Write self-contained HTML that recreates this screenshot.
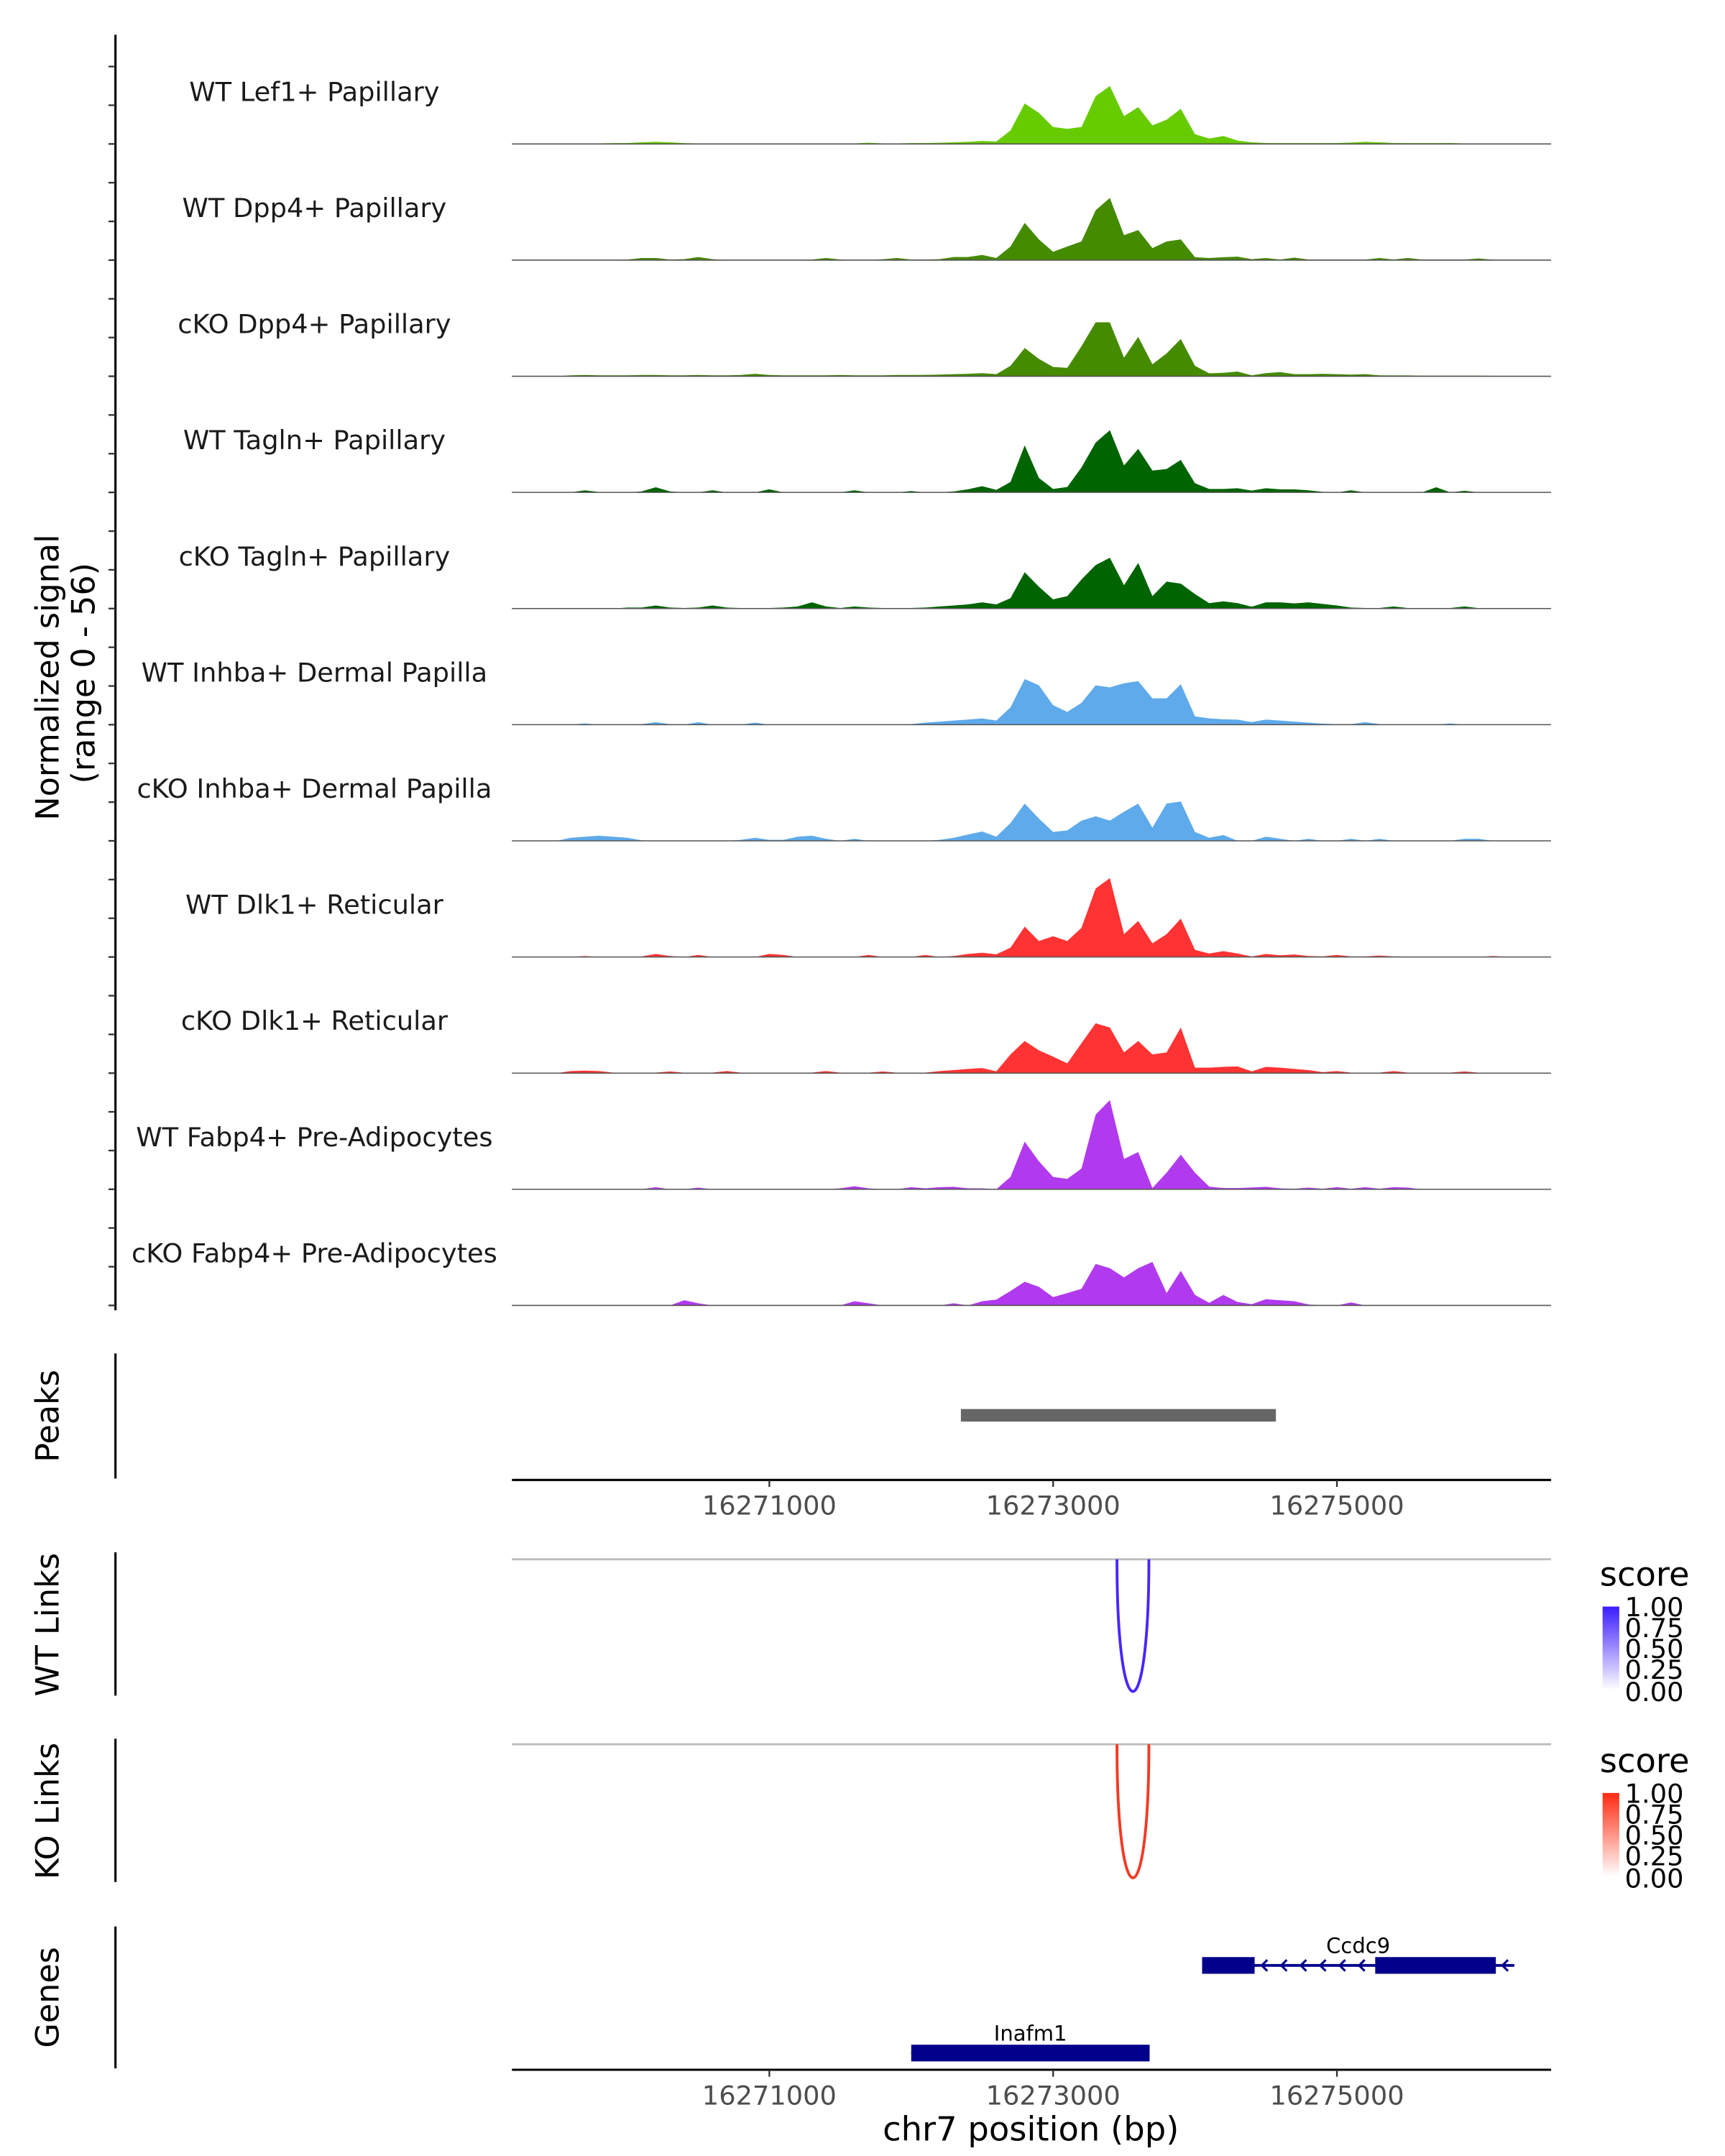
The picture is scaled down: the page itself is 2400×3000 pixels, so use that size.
<!DOCTYPE html>
<html><head><meta charset="utf-8"><style>
html,body{margin:0;padding:0;background:#fff;}
svg{display:block;font-family:"DejaVu Sans","Liberation Sans",sans-serif;}
</style></head><body>
<svg id="chart" width="2400" height="3000" viewBox="0 0 1240 1550" preserveAspectRatio="none" xmlns="http://www.w3.org/2000/svg">
<g id="tracks"></g>
<line x1="83" y1="25" x2="83" y2="942" stroke="#000" stroke-width="1.6"/>
<g id="yticks"></g>
<g font-size="23" fill="#000" text-anchor="middle">
<text transform="translate(42,487) rotate(-90)">Normalized signal</text>
<text transform="translate(68,484) rotate(-90)">(range 0 - 56)</text>
</g>
<line x1="83" y1="973" x2="83" y2="1063" stroke="#000" stroke-width="1.6"/>
<text transform="translate(42,1018) rotate(-90)" font-size="23" text-anchor="middle">Peaks</text>
<g id="peaks"></g>
<g id="xaxis1"></g>
<line x1="83" y1="1116" x2="83" y2="1219" stroke="#000" stroke-width="1.6"/>
<text transform="translate(42,1168) rotate(-90)" font-size="23" text-anchor="middle">WT Links</text>
<line x1="368" y1="1121" x2="1115" y2="1121" stroke="#bdbdbd" stroke-width="1.5"/>
<g id="wtlinks"></g>
<line x1="83" y1="1250" x2="83" y2="1353" stroke="#000" stroke-width="1.6"/>
<text transform="translate(42,1302) rotate(-90)" font-size="23" text-anchor="middle">KO Links</text>
<line x1="368" y1="1254" x2="1115" y2="1254" stroke="#bdbdbd" stroke-width="1.5"/>
<g id="kolinks"></g>
<defs>
<linearGradient id="gb" x1="0" y1="1" x2="0" y2="0"><stop offset="0" stop-color="#ffffff"/><stop offset="1" stop-color="#3b1cff"/></linearGradient>
<linearGradient id="gr" x1="0" y1="1" x2="0" y2="0"><stop offset="0" stop-color="#ffffff"/><stop offset="1" stop-color="#ff2a10"/></linearGradient>
</defs>
<g font-size="19" fill="#000">
<text x="1150" y="1140" font-size="24">score</text>
<rect x="1152" y="1155" width="12" height="60" fill="url(#gb)"/>
<text x="1168" y="1162">1.00</text><text x="1168" y="1177">0.75</text><text x="1168" y="1192">0.50</text><text x="1168" y="1207">0.25</text><text x="1168" y="1223">0.00</text>
</g>
<g font-size="19" fill="#000">
<text x="1150" y="1274" font-size="24">score</text>
<rect x="1152" y="1289" width="12" height="60" fill="url(#gr)"/>
<text x="1168" y="1296">1.00</text><text x="1168" y="1311">0.75</text><text x="1168" y="1326">0.50</text><text x="1168" y="1341">0.25</text><text x="1168" y="1357">0.00</text>
</g>
<line x1="83" y1="1385" x2="83" y2="1487" stroke="#000" stroke-width="1.6"/>
<text transform="translate(42,1436) rotate(-90)" font-size="23" text-anchor="middle">Genes</text>
<g id="genes"></g>
<g id="xaxis2"></g>
<text x="741" y="1539" font-size="24" text-anchor="middle">chr7 position (bp)</text>
</svg>
<script>
const binStart = 16269200;
const binSize = 100;
const trackNames = ["WT Lef1+ Papillary","WT Dpp4+ Papillary","cKO Dpp4+ Papillary","WT Tagln+ Papillary","cKO Tagln+ Papillary","WT Inhba+ Dermal Papilla","cKO Inhba+ Dermal Papilla","WT Dlk1+ Reticular","cKO Dlk1+ Reticular","WT Fabp4+ Pre-Adipocytes","cKO Fabp4+ Pre-Adipocytes"];
const trackColors = ["#66cc00","#458b00","#458b00","#006400","#006400","#5eaaeb","#5eaaeb","#ff3333","#ff3333","#b23aee","#b23aee"];
const sigLef1WT = [.2,.2,.2,.2,.3,.3,.3,.4,.5,.8,1,.8,.4,.3,.3,.3,.3,.3,.3,.3,.3,.3,.3,.3,.3,.6,.3,.3,.4,.5,.6,.8,1,1.5,
 1.2,6.5,19.5,15,8.2,7.3,8.2,23,28,13.4,17.8,9,11.7,17,4.7,2.6,3.8,1.6,.8,
 .5,.4,.4,.4,.4,.5,.7,1,.8,.5,.4,.4,.4,.5,.3,.2,.2,.2,.2,.2,.2];
const sigDpp4WT = [0,0,0,0,0,0,0,0,.3,1,1,.3,.5,1.5,.5,0,0,0,0,0,0,.3,1,.3,0,0,.4,1,.3,.3,.5,1.5,1.5,2.5,
 1,6.6,18,10,4,6.6,9,24,30,12,14.5,5.8,9,10,1.4,1,1.4,1.7,.5,
 1,.3,1.2,.3,.3,.3,.3,.3,1,.3,1,.3,.3,.3,.3,.8,.2,0,0,0,0];
const sigDpp4KO = [0,0,0,0,.5,.6,.5,.5,.5,.6,.6,.5,.5,.6,.5,.5,.6,1.2,.6,.5,.5,.5,.5,.6,.5,.5,.5,.6,.6,.7,.8,1,1.2,1.5,
 1,5,13.6,8.4,4.5,4,14.5,26,26,9,19,5.8,11,18,5,1.4,1.7,2.3,.5,
 1.5,2,1,1,1.2,1,.8,1,.5,.4,.4,.3,.3,.3,.3,.3,.2,.2,0,0,0];
const sigTaglnWT = [0,0,0,0,0,1,.2,0,0,.5,2.5,.5,0,0,1,0,0,0,1.5,0,0,0,0,0,1,0,0,0,.7,0,0,.5,1.5,3,
 1.2,5,22.7,7,1.7,2.6,12,24,30,13,21,10.5,11.3,15.7,4.4,1.7,1.7,2,.9,
 2,1.5,1.5,1,.3,0,1,0,0,0,0,0,2.5,0,.8,0,0,0,0,0,0];
const sigTaglnKO = [0,0,0,0,0,0,0,0,.5,.5,1.5,.5,.3,.5,1.5,.5,.3,.3,.3,.5,1,3,1,.3,1,.5,.3,.3,.3,.5,1,1.5,2,3,
 2,5,17.5,10.5,4.4,6,14,21,24.5,11.3,22,6,13,12,7,2.6,3.5,2.6,.9,
 3,3,2.5,3,2.2,1.5,.5,.3,.3,1,.3,.3,.3,.3,1,.2,0,0,0,0,0];
const sigInhbaWT = [0,0,0,0,0,.6,0,0,0,.3,1.2,.3,0,1.2,0,0,0,1,0,0,0,0,0,0,0,0,0,0,.3,1,1.5,2,2.5,3,
 2,8.4,22,19,9.4,6.2,10.5,19,18,20,21,12.7,12.7,19.5,4,3,2.6,2.4,1.3,
 2.5,2,1.5,1,.5,.3,.3,1.2,.3,0,0,0,0,.6,0,0,0,0,0,0,0];
const sigInhbaKO = [0,0,0,0,1.5,2,2.5,2,1.5,.3,0,0,0,0,0,0,.5,1.5,.5,.5,2,2.5,1,0,1,0,0,0,0,0,.5,1.5,3,4.5,
 2,8.6,18,10.7,4.3,5,9.7,11.8,9.7,14,18,6.4,18,19,4.3,1.5,2.8,0,0,
 2,1,0,1,0,0,1,0,1,0,0,0,0,0,1,1,0,0,0,0,0];
const sigDlk1WT = [0,0,0,0,0,.5,0,0,0,.3,1.5,.5,0,1,0,0,0,0,1.5,1,0,0,0,0,0,1,0,0,0,1,0,.5,1.5,2,
 1.3,4.5,14.6,7.7,10,7.7,14,33,38,11,17.4,6.6,11,18.5,3.4,1.7,2.8,1.7,.2,
 1.5,.8,1.2,.5,.3,1,.3,.3,.7,.3,.2,0,0,0,0,0,.5,0,0,0,0];
const sigDlk1KO = [0,0,0,0,1,1.2,1,.3,.2,.2,.3,.8,.2,.2,.3,1,.3,.2,.2,.2,.3,.3,1,.3,.2,.2,.8,.2,.2,.3,1,1.5,2,2.5,
 .9,9,15.5,11,8,4.7,14.4,24,22,10,15.5,9,10,22,2.6,2.6,3,3.2,.9,
 3,2.6,2,1.5,.5,1,.3,.3,.3,1,.3,.3,.3,.3,.8,.2,.2,.2,0,0,0];
const sigFabp4WT = [0,0,0,0,0,0,0,0,0,0,1,0,0,.8,0,0,0,0,0,0,0,0,0,.5,1.5,.5,0,0,1,.5,1,1.2,.5,.5,
 0,6,23,13.5,6,5,10,36,43,14.6,18,.6,8,16.7,8,1.3,.6,.6,.9,
 1.2,.5,.3,.8,.3,1,.3,1,.3,1,.8,0,0,0,0,0,0,0,0,0,0];
const sigFabp4KO = [0,0,0,0,0,0,0,0,0,0,0,0,2.5,1,0,0,0,0,0,0,0,0,0,0,2,1,0,0,0,0,0,1,0,2,
 2.8,7,11.4,9,4,6,8,20,18,13.5,18,21,6,16.7,5,1.3,5,1.7,.6,
 3,2.5,2,.5,0,0,1.5,0,0,0,0,0,0,0,0,0,0,0,0,0,0];
const trackSignals = [sigLef1WT,sigDpp4WT,sigDpp4KO,sigTaglnWT,sigTaglnKO,sigInhbaWT,sigInhbaKO,sigDlk1WT,sigDlk1KO,sigFabp4WT,sigFabp4KO];
const xTicks = [16271000,16273000,16275000];
const peakStarts = [16272350];
const peakEnds = [16274570];
const wtLinkStarts = [16273450]; const wtLinkEnds = [16273675];
const koLinkStarts = [16273450]; const koLinkEnds = [16273675];
const geneNames = ["Ccdc9","Inafm1"];
const geneStarts = [16274050,16272000];
const geneEnds = [16276250,16273680];
const exonStarts = [[16274050,16275270],[16272000]];
const exonEnds = [[16274420,16276120],[16273680]];

const NS = "http://www.w3.org/2000/svg";
const X0 = 368, X1 = 1115, BP0 = 16269186, PXBP = 0.102;
const TOP = 20, TH = 83.5, YMAX = 56;
function xs(bp){ return X0 + (bp - BP0) * PXBP; }
function baseY(t){ return TOP + TH * (t + 1); }
function ys(t, v){ return baseY(t) - v / YMAX * TH; }
function mk(tag, attrs, parent){ const e = document.createElementNS(NS, tag); for (const k in attrs) e.setAttribute(k, attrs[k]); parent.appendChild(e); return e; }

const gT = document.getElementById('tracks');
const gY = document.getElementById('yticks');
trackSignals.forEach((sig, t) => {
  const b = baseY(t);
  let d = 'M' + X0 + ',' + b;
  sig.forEach((v, i) => { const x = Math.max(X0, Math.min(X1, xs(binStart + binSize * i))); d += ' L' + x.toFixed(1) + ',' + ys(t, v).toFixed(1); });
  d += ' L' + X1 + ',' + b + ' Z';
  const p = mk('path', {d: d, fill: trackColors[t]}, gT);
  
  
  const bl = mk('line', {x1: X0, y1: b, x2: X1, y2: b, stroke: '#555', 'stroke-width': 0.8}, gT);
  
  
  const lb = mk('text', {x: 226, y: b - 31, 'font-size': 19, 'text-anchor': 'middle', fill: '#1a1a1a'}, gT);
  lb.textContent = trackNames[t];
  
  
  for (let k = 0; k < 3; k++) {
    const ty = b - k * TH / 3;
    const tk = mk('line', {x1: 78, y1: ty, x2: 83, y2: ty, stroke: '#333', 'stroke-width': 1.2}, gY);
    
    
  }
});

const gP = document.getElementById('peaks');
peakStarts.forEach((s, i) => {
  const r = mk('rect', {x: xs(s), y: 1013, width: xs(peakEnds[i]) - xs(s), height: 9, fill: '#666'}, gP);
  
  
});

function xAxis(id, y){
  const g = document.getElementById(id);
  const ln = mk('line', {x1: X0, y1: y, x2: X1, y2: y, stroke: '#000', 'stroke-width': 1.6}, g);
  
  
  xTicks.forEach(v => {
    const tk = mk('line', {x1: xs(v), y1: y, x2: xs(v), y2: y + 5, stroke: '#333', 'stroke-width': 1.2}, g);
    
    
    const tx = mk('text', {x: xs(v), y: y + 25, 'font-size': 19, 'text-anchor': 'middle', fill: '#4d4d4d'}, g);
    tx.textContent = String(v);
    
    
  });
}
xAxis('xaxis1', 1064);
xAxis('xaxis2', 1488);

function links(id, starts, ends, y0, depth, color){
  const g = document.getElementById(id);
  starts.forEach((s, i) => {
    const a = xs(s), b = xs(ends[i]), c = y0 + depth * 4 / 3;
    const p = mk('path', {d: 'M' + a + ',' + y0 + ' C' + a + ',' + c + ' ' + b + ',' + c + ' ' + b + ',' + y0, fill: 'none', stroke: color, 'stroke-width': 2}, g);
    
    
  });
}
links('wtlinks', wtLinkStarts, wtLinkEnds, 1121, 95, '#4a25ff');
links('kolinks', koLinkStarts, koLinkEnds, 1254, 96, '#f23a24');

const gG = document.getElementById('genes');
const geneY = [1413, 1476];
geneNames.forEach((n, i) => {
  const y = geneY[i];
  const ln = mk('line', {x1: xs(geneStarts[i]), y1: y, x2: xs(geneEnds[i]), y2: y, stroke: '#00008b', 'stroke-width': 2}, gG);
  
  
  exonStarts[i].forEach((s, j) => {
    const r = mk('rect', {x: xs(s), y: y - 6, width: xs(exonEnds[i][j]) - xs(s), height: 12, fill: '#00008b'}, gG);
    
    
  });
  const lb = mk('text', {x: (xs(geneStarts[i]) + xs(geneEnds[i])) / 2, y: y - 9, 'font-size': 15, 'text-anchor': 'middle', fill: '#000'}, gG);
  lb.textContent = n;
  
  
});
for (let k = 0; k < 6; k++) {
  const cx = 907 + k * 14;
  const c = mk('path', {d: 'M' + (cx + 4) + ',1409 L' + cx + ',1413 L' + (cx + 4) + ',1417', fill: 'none', stroke: '#00008b', 'stroke-width': 1.6}, gG);
  
  
}
const ce = mk('path', {d: 'M1084,1409 L1080,1413 L1084,1417', fill: 'none', stroke: '#00008b', 'stroke-width': 1.6}, gG);


</script>
</body></html>
